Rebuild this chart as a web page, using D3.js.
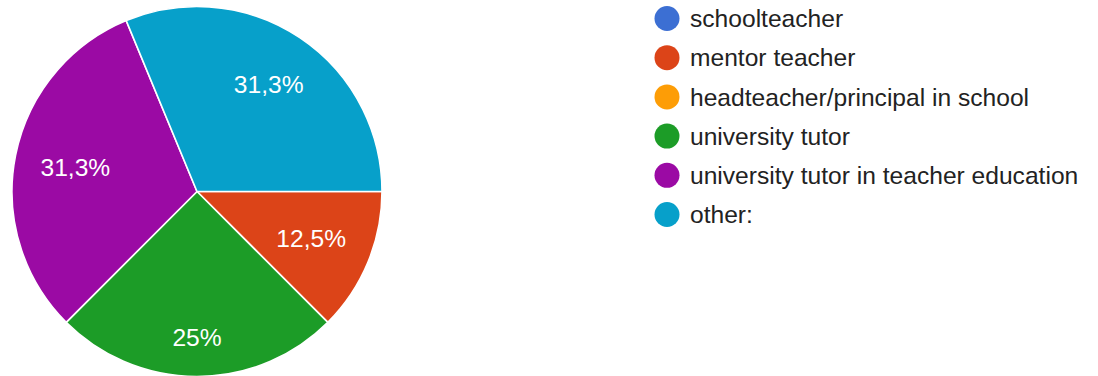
<!DOCTYPE html>
<html>
<head>
<meta charset="utf-8">
<script src="https://cdn.jsdelivr.net/npm/d3@7"></script>
<style>
  html, body { margin: 0; padding: 0; background: #fff; }
  svg { display: block; }
  text { font-family: "Liberation Sans", Arial, sans-serif; }
</style>
</head>
<body>
<svg id="chart" width="1098" height="376"></svg>
<script>
// Response categories and counts (16 answers in total)
const categories = [
  "schoolteacher",
  "mentor teacher",
  "headteacher/principal in school",
  "university tutor",
  "university tutor in teacher education",
  "other:"
];
const counts = [0, 2, 0, 4, 5, 5];
const sliceLabels = ["0%", "12,5%", "0%", "25%", "31,3%", "31,3%"];
const colors = ["#3c6fd3", "#dc4418", "#fd9d06", "#1c9c27", "#9b0aa4", "#07a0ca"];

const svg = d3.select("#chart");
const cx = 197, cy = 191.5, radius = 185;
const fontSize = 24.6;

const pie = d3.pie()
  .value(d => d.value)
  .sort(null)
  .startAngle(Math.PI / 2)
  .endAngle(Math.PI / 2 + 2 * Math.PI);

const data = categories.map((c, i) => ({ name: c, value: counts[i], label: sliceLabels[i], color: colors[i] }));
const arcs = pie(data);
const arc = d3.arc().innerRadius(0).outerRadius(radius);

const g = svg.append("g").attr("transform", `translate(${cx},${cy})`);

g.selectAll("path.slice")
  .data(arcs.filter(a => a.data.value > 0))
  .join("path")
  .attr("class", "slice")
  .attr("d", arc)
  .attr("fill", d => d.data.color)
  .attr("stroke", "#fff")
  .attr("stroke-width", 1.6)
  .attr("stroke-linejoin", "round");

// Slice labels: the text box is pushed out along the slice's mid-angle
// until its outer corner reaches the label ring.
const labelRing = radius * 0.87;
const labels = g.selectAll("text.pct")
  .data(arcs.filter(a => a.data.value > 0))
  .join("text")
  .attr("class", "pct")
  .attr("fill", "#fff")
  .attr("font-size", fontSize)
  .attr("text-anchor", "middle")
  .attr("dy", "0.35em")
  .text(d => d.data.label);

labels.each(function(d) {
  const w = this.getComputedTextLength() / 2;
  const h = fontSize * 0.54;
  const mid = (d.startAngle + d.endAngle) / 2;
  const ux = Math.sin(mid), uy = -Math.cos(mid);
  const c = [Math.sign(ux) * w, Math.sign(uy) * h];
  const uc = ux * c[0] + uy * c[1];
  const cc = c[0] * c[0] + c[1] * c[1];
  const t = -uc + Math.sqrt(uc * uc - cc + labelRing * labelRing);
  d3.select(this).attr("x", t * ux).attr("y", t * uy);
});

// Legend
const legendY = d3.scalePoint().domain(categories).range([18.5, 214.5]);
const legend = svg.append("g");
const items = legend.selectAll("g.item")
  .data(data)
  .join("g")
  .attr("class", "item")
  .attr("transform", d => `translate(0,${legendY(d.name)})`);

items.append("circle")
  .attr("cx", 667)
  .attr("cy", 0)
  .attr("r", 12.5)
  .attr("fill", d => d.color);

items.append("text")
  .attr("x", 690)
  .attr("y", 0)
  .attr("dy", "0.35em")
  .attr("font-size", fontSize)
  .attr("fill", "#222")
  .text(d => d.name);
</script>
</body>
</html>
